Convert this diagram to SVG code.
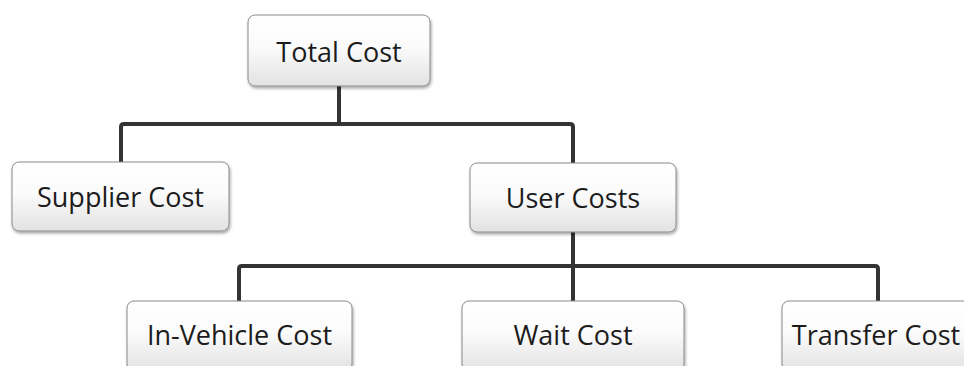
<svg xmlns="http://www.w3.org/2000/svg" width="964" height="366" viewBox="0 0 964 366">
  <defs>
    <linearGradient id="boxFill" x1="0" y1="0" x2="0" y2="1">
      <stop offset="0" stop-color="#ffffff"/>
      <stop offset="0.45" stop-color="#fbfbfb"/>
      <stop offset="1" stop-color="#e2e2e2"/>
    </linearGradient>
    <filter id="shadow" x="-10%" y="-10%" width="120%" height="130%">
      <feGaussianBlur in="SourceAlpha" stdDeviation="1.5"/>
      <feOffset dx="1" dy="2" result="b"/>
      <feComponentTransfer><feFuncA type="linear" slope="0.35"/></feComponentTransfer>
      <feMerge><feMergeNode/><feMergeNode in="SourceGraphic"/></feMerge>
    </filter>
  </defs>
  <style>
    .box { fill: url(#boxFill); stroke: #8a8a8a; stroke-width: 1; filter: url(#shadow); }
    .label { font-family: "Open Sans", "Noto Sans", sans-serif; font-size: 27px; fill: #1c1c1c; text-anchor: middle; }
    .link { fill: none; stroke: #333333; stroke-width: 4; stroke-linejoin: round; }
  </style>
  <rect width="964" height="366" fill="#ffffff"/>

  <!-- connectors -->
  <g id="connectors">
    <path class="link" d="M339 86 V124"/>
    <path class="link" d="M121 162 V127 Q121 124 124 124 H570 Q573 124 573 127 V163"/>
    <path class="link" d="M573 232 V266"/>
    <path class="link" d="M239 301 V269 Q239 266 242 266 H875 Q878 266 878 269 V301"/>
    <path class="link" d="M573 266 V301"/>
  </g>

  <g id="total-cost">
    <rect class="box" x="248" y="15" width="182" height="71" rx="7"/>
    <text class="label" x="339" y="62">Total Cost</text>
  </g>
  <g id="supplier-cost">
    <rect class="box" x="12" y="162" width="217" height="69" rx="7"/>
    <text class="label" x="120.5" y="207">Supplier Cost</text>
  </g>
  <g id="user-costs">
    <rect class="box" x="470" y="163" width="206" height="69" rx="7"/>
    <text class="label" x="573" y="208">User Costs</text>
  </g>
  <g id="in-vehicle-cost">
    <rect class="box" x="127" y="301" width="225" height="70" rx="7"/>
    <text class="label" x="239.5" y="345">In-Vehicle Cost</text>
  </g>
  <g id="wait-cost">
    <rect class="box" x="462" y="301" width="222" height="70" rx="7"/>
    <text class="label" x="573" y="345">Wait Cost</text>
  </g>
  <g id="transfer-cost">
    <rect class="box" x="782" y="301" width="192" height="70" rx="7"/>
    <text class="label" x="876" y="345">Transfer Cost</text>
  </g>
</svg>
